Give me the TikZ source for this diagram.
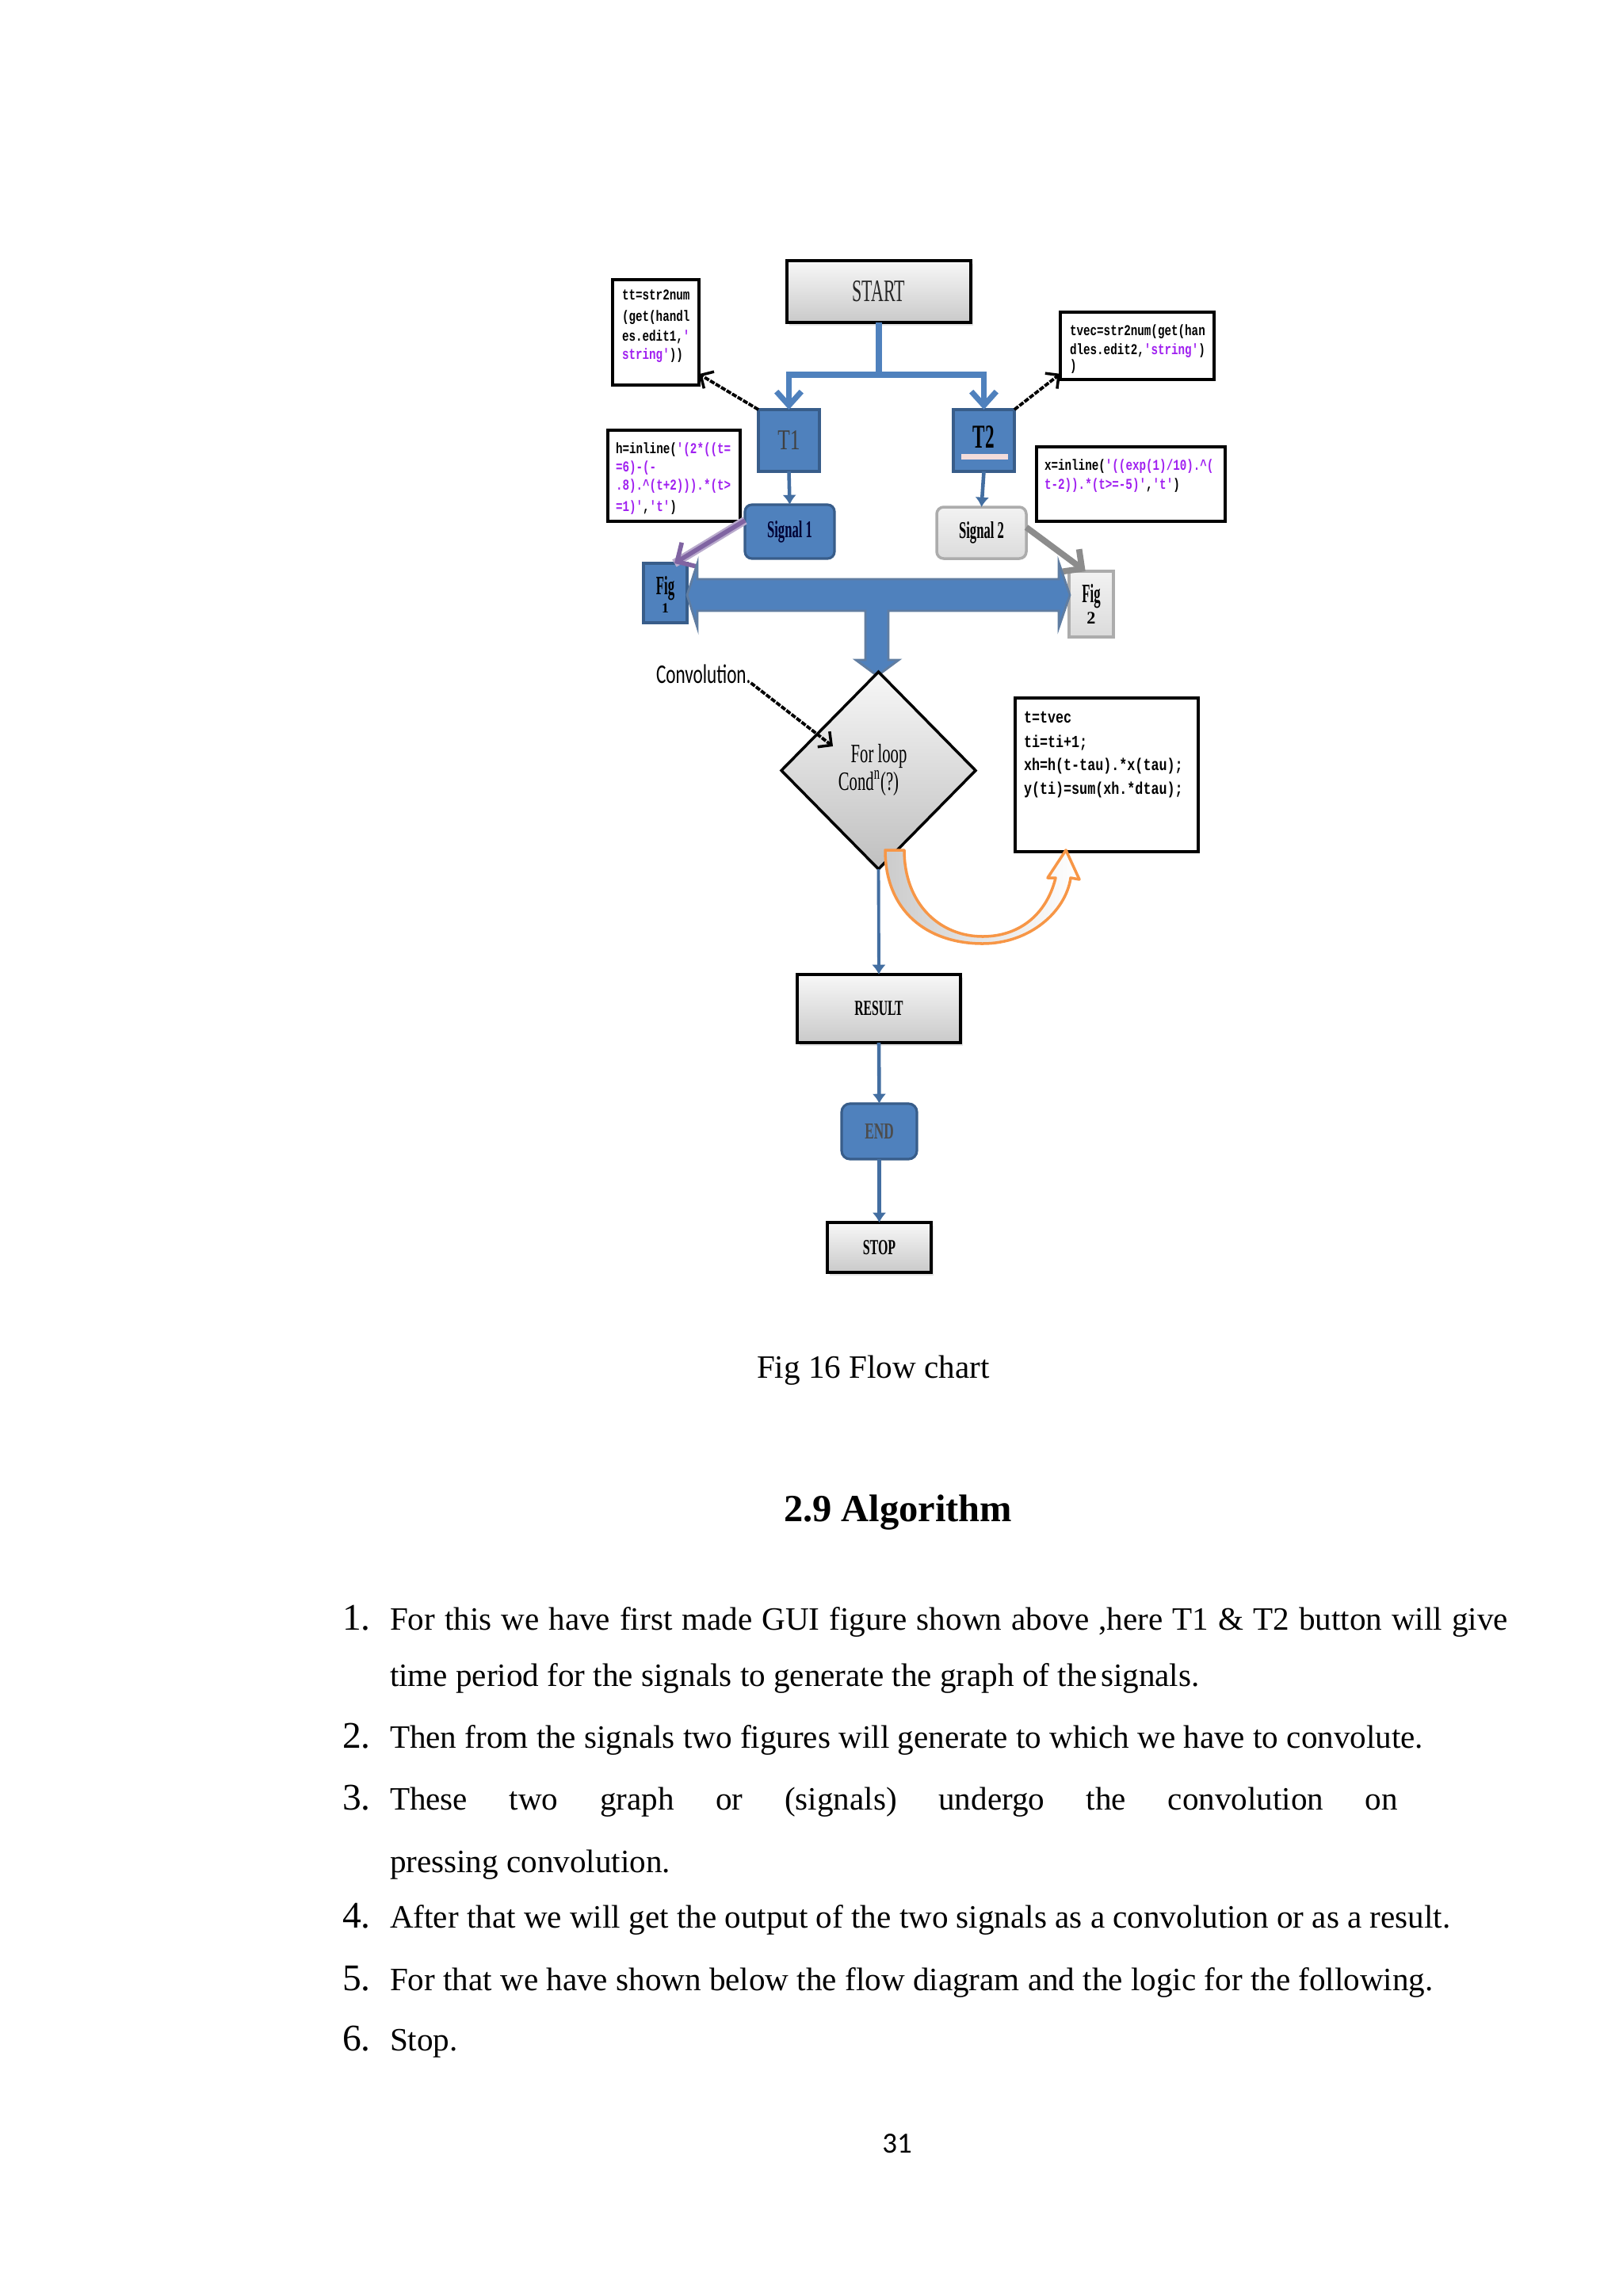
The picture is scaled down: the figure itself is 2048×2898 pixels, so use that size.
\documentclass[tikz,border=0pt]{standalone}
\usepackage{fontspec}
\usepackage{graphicx}
\setmainfont{Liberation Serif}
\setmonofont{Liberation Mono}
\newfontfamily\califont{Carlito}
\usetikzlibrary{arrows.meta,shapes.geometric,shadows}
\definecolor{ublue}{HTML}{4F81BD}
\definecolor{ubluedark}{HTML}{385D8A}
\definecolor{mpurple}{HTML}{A020F0}
\definecolor{apurple}{HTML}{8064A2}
\definecolor{lpink}{HTML}{F2DCDB}
\definecolor{lorange}{HTML}{F79646}
\definecolor{agray}{HTML}{8C8C8C}
\newcommand{\sx}[2]{\scalebox{#1}[1]{#2}}
\newcommand{\mstr}[1]{\textcolor{mpurple}{#1}}
\newcommand{\fs}[1]{\fontsize{#1pt}{#1pt}\selectfont}
\tikzset{
  every node/.style={inner sep=0pt, outer sep=0pt},
  gbox/.style={draw=black, line width=1pt, top color=gray!6, bottom color=gray!42,
    drop shadow={shadow xshift=0.8pt, shadow yshift=-1.2pt, opacity=0.22}},
  bbox/.style={draw=ubluedark, line width=0.9pt, fill=ublue},
  lbox/.style={draw=gray!65, line width=1pt, top color=gray!10, bottom color=gray!28},
  cbox/.style={draw=black, line width=1pt, fill=white},
  code/.style={anchor=base west, font=\ttfamily\bfseries\fs{5.4}},
  codeb/.style={anchor=base west, font=\ttfamily\bfseries\fs{6.1}},
  lbl/.style={anchor=base},
  body/.style={anchor=base west, font=\fs{11.7}},
  num/.style={anchor=base west, font=\fs{13.5}},
  bconn/.style={draw=ublue, line width=2pt, -{Straight Barb[length=5pt,width=9pt]}},
  tconn/.style={draw=ublue!85!black, line width=1.3pt, -{Latex[length=3.5pt,width=5pt]}},
  dconn/.style={draw=black, line width=1.1pt, dash pattern=on 1.8pt off 0.5pt,
    -{Straight Barb[length=3.5pt,width=7pt,line width=1pt]}},
}
\begin{document}
\begin{tikzpicture}[x=0.1mm, y=-0.1mm]
\useasboundingbox[fill=white] (0,0) rectangle (2048,2898);

% ---------- boxes ----------
\node[gbox, minimum width=23.2mm, minimum height=7.8mm] (start) at (1109,368)
  {\fs{11.2}\color{black!85}\sx{0.56}{START}};
\node[cbox, minimum width=10.9mm, minimum height=13.3mm] (ttbox) at (827.5,419.5) {};
\node[bbox, minimum width=7.7mm, minimum height=7.8mm] (t1) at (995.5,556)
  {\fs{10.3}\color{black!75}\sx{0.7}{T1}};
\node[bbox, minimum width=7.7mm, minimum height=7.8mm] (t2) at (1241.5,556) {};
\fill[lpink] (1213,573) rectangle (1272,580);
\node[lbl, font=\fs{12}\bfseries] (t2txt) at (1241.5,565) {\sx{0.55}{T2}};
\node[cbox, minimum width=19.4mm, minimum height=8.5mm] (tvecbox) at (1435,436.5) {};
\node[cbox, minimum width=16.7mm, minimum height=11.5mm] (hbox) at (850.5,600.5) {};
\node[cbox, minimum width=23.8mm, minimum height=9.4mm] (xbox) at (1427,611) {};
\node[bbox, rounded corners=2.5pt, minimum width=11.3mm, minimum height=6.8mm] (sig1) at (996.5,671)
  {\fs{8.6}\bfseries\color{black!80!blue}\sx{0.55}{Signal 1}};
\node[lbox, rounded corners=2.5pt, minimum width=11.3mm, minimum height=6.5mm] (sig2) at (1238.5,672.5)
  {\fs{8.6}\bfseries\sx{0.55}{Signal 2}};
\node[bbox, minimum width=5.5mm, minimum height=7.5mm] (fig1) at (839.5,748.5) {};
\node[lbl, font=\fs{9.5}\bfseries] (fig1a) at (839.5,750) {\sx{0.5}{Fig}};
\node[lbl, font=\fs{5}\bfseries] (fig1b) at (839.5,773) {1};
\node[lbox, minimum width=5.6mm, minimum height=8.3mm] (fig2) at (1377,762.5) {};
\node[lbl, font=\fs{9.5}\bfseries] (fig2a) at (1377,760) {\sx{0.5}{Fig}};
\node[lbl, font=\fs{6.3}\bfseries] (fig2b) at (1377,787) {2};

% ---------- code texts ----------
\node[code] (tt1) at (785,378) {\sx{0.75}{tt=str2num}};
\node[code] (tt2) at (785,405) {\sx{0.75}{(get(handl}};
\node[code] (tt3) at (785,430) {\sx{0.75}{es.edit1,\mstr{'}}};
\node[code] (tt4) at (785,453) {\sx{0.75}{\mstr{string'}))}};
\node[code] (h1) at (777,572) {\sx{0.75}{h=inline(\mstr{'(2*((t=}}};
\node[code] (h2) at (777,595) {\sx{0.75}{\mstr{=6)-(-}}};
\node[code] (h3) at (777,618) {\sx{0.75}{\mstr{.8).\textasciicircum(t+2))).*(t>}}};
\node[code] (h4) at (777,645) {\sx{0.75}{\mstr{=1)'},\mstr{'t'})}};
\node[code] (tv1) at (1350,423) {\sx{0.75}{tvec=str2num(get(han}};
\node[code] (tv2) at (1350,447) {\sx{0.75}{dles.edit2,\mstr{'string'})}};
\node[code] (tv3) at (1350,467) {\sx{0.75}{)}};
\node[code] (x1) at (1318,593) {\sx{0.75}{x=inline(\mstr{'((exp(1)/10).\textasciicircum(}}};
\node[code] (x2) at (1318,617) {\sx{0.75}{\mstr{t-2)).*(t>=-5)'},\mstr{'t'})}};

% ---------- connectors top ----------
\draw[bconn] (start.south) -- (1109,473) -| (t1.north);
\draw[bconn] (1109,473) -| (t2.north);
\draw[dconn] (t1.north west) -- (ttbox.-44);
\draw[dconn] (t2.north east) -- (tvecbox.200);
\draw[tconn] (t1.south) -- (sig1.north);
\draw[tconn] (t2.south) -- (sig2.north);
\draw[draw=apurple!55, line width=3pt] (sig1.166) -- (fig1.73);
\draw[draw=apurple, line width=1.6pt, -{Straight Barb[length=5pt,width=10pt]}] (sig1.166) -- (fig1.73);
\draw[draw=agray, line width=2.2pt, -{Straight Barb[length=5pt,width=10pt]}] (sig2.7) -- (fig2.100);

% ---------- big double arrow ----------
\filldraw[fill=ublue, draw=ubluedark!80, line width=0.8pt]
  (867,751) -- (880,711) -- (880,731) -- (1336,731) -- (1336,710) -- (1350,751)
  -- (1336,792) -- (1336,771) -- (1121,771) -- (1121,833) -- (1134,833)
  -- (1107,853) -- (1080,833) -- (1092,833) -- (1092,771) -- (880,771)
  -- (880,792) -- cycle;

% ---------- decision ----------
\node[diamond, draw=black, line width=1pt, top color=gray!6, bottom color=gray!50,
  minimum width=24.5mm, minimum height=24.9mm] (dec) at (1108.5,972.5) {};
\node[lbl, font=\fs{9.5}] (dec1) at (1109,962) {\sx{0.62}{For loop}};
\node[lbl, font=\fs{9.5}] (dec2) at (1096,997) {\sx{0.62}{Cond\textsuperscript{n}(?)}};
\node[anchor=base west, font=\califont\fs{9.7}] (conv) at (828,862) {\sx{0.68}{Convolution.}};
\coordinate (convtip) at (1051,942);
\draw[dconn] (conv.base east) -- (convtip);

\node[cbox, minimum width=23.1mm, minimum height=19.4mm] (loopbox) at (1396.5,978) {};
\node[codeb] (c1) at (1292,912) {\sx{0.78}{t=tvec}};
\node[codeb] (c2) at (1292,943) {\sx{0.78}{ti=ti+1;}};
\node[codeb] (c3) at (1292,972) {\sx{0.78}{xh=h(t-tau).*x(tau);}};
\node[codeb] (c4) at (1292,1002) {\sx{0.78}{y(ti)=sum(xh.*dtau);}};

% curved loop arrow
\draw[draw=lorange, line width=1pt, left color=gray!40, right color=white, line join=round]
  (1117,1073) .. controls (1117,1150) and (1170,1191) .. (1240,1191)
  .. controls (1300,1191) and (1345,1150) .. (1351,1108)
  -- (1362,1110) -- (1345,1073) -- (1322,1108) -- (1332,1108)
  .. controls (1322,1150) and (1290,1182) .. (1240,1182)
  .. controls (1185,1182) and (1141,1140) .. (1141,1073) -- cycle;

% ---------- bottom ----------
\node[gbox, minimum width=20.6mm, minimum height=8.6mm] (result) at (1109,1273)
  {\fs{7.7}\bfseries\sx{0.58}{RESULT}};
\node[bbox, rounded corners=3pt, minimum width=9.5mm, minimum height=7mm] (endn) at (1109.5,1428)
  {\fs{8.2}\bfseries\color{black!70}\sx{0.6}{END}};
\node[gbox, minimum width=13.1mm, minimum height=6.3mm] (stop) at (1109.5,1574.5)
  {\fs{7.7}\bfseries\sx{0.59}{STOP}};
\draw[tconn, line width=1.1pt] (dec.south) -- (result.north);
\draw[tconn] (result.south) -- (endn.north);
\draw[tconn] (endn.south) -- (stop.north);

% ---------- text ----------
\node[body] (cap) at (955,1739) {Fig 16 Flow chart};
\node[anchor=base west, font=\fs{13.8}\bfseries] (title) at (989,1920) {2.9 Algorithm};

\node[num] (n1) at (432,2057) {1.};
\node[body] (l1) at (492,2057) {\makebox[141.1mm][s]{For this we have first made GUI figure shown above ,here T1 \& T2 button will give}};
\node[body] (l1b) at (492,2128) {time period for the signals to generate the graph of the\hspace{0.1em}signals.};
\node[num] (n2) at (432,2206) {2.};
\node[body] (l2) at (492,2206) {Then from the signals two figures will generate to which we have to convolute.};
\node[num] (n3) at (432,2284) {3.};
\node[body] (l3) at (492,2284) {\makebox[127.2mm][s]{These two graph or (signals) undergo the convolution on}};
\node[body] (l3b) at (492,2363) {pressing convolution.};
\node[num] (n4) at (432,2433) {4.};
\node[body] (l4) at (492,2433) {After that we will get the output of the two signals as a convolution or as a result.};
\node[num] (n5) at (432,2512) {5.};
\node[body] (l5) at (492,2512) {For that we have shown below the flow diagram and the logic for the following.};
\node[num] (n6) at (432,2588) {6.};
\node[body] (l6) at (492,2588) {Stop.};
\node[anchor=base, font=\califont\fs{10.5}] (pnum) at (1132,2717) {31};
\end{tikzpicture}
\end{document}
